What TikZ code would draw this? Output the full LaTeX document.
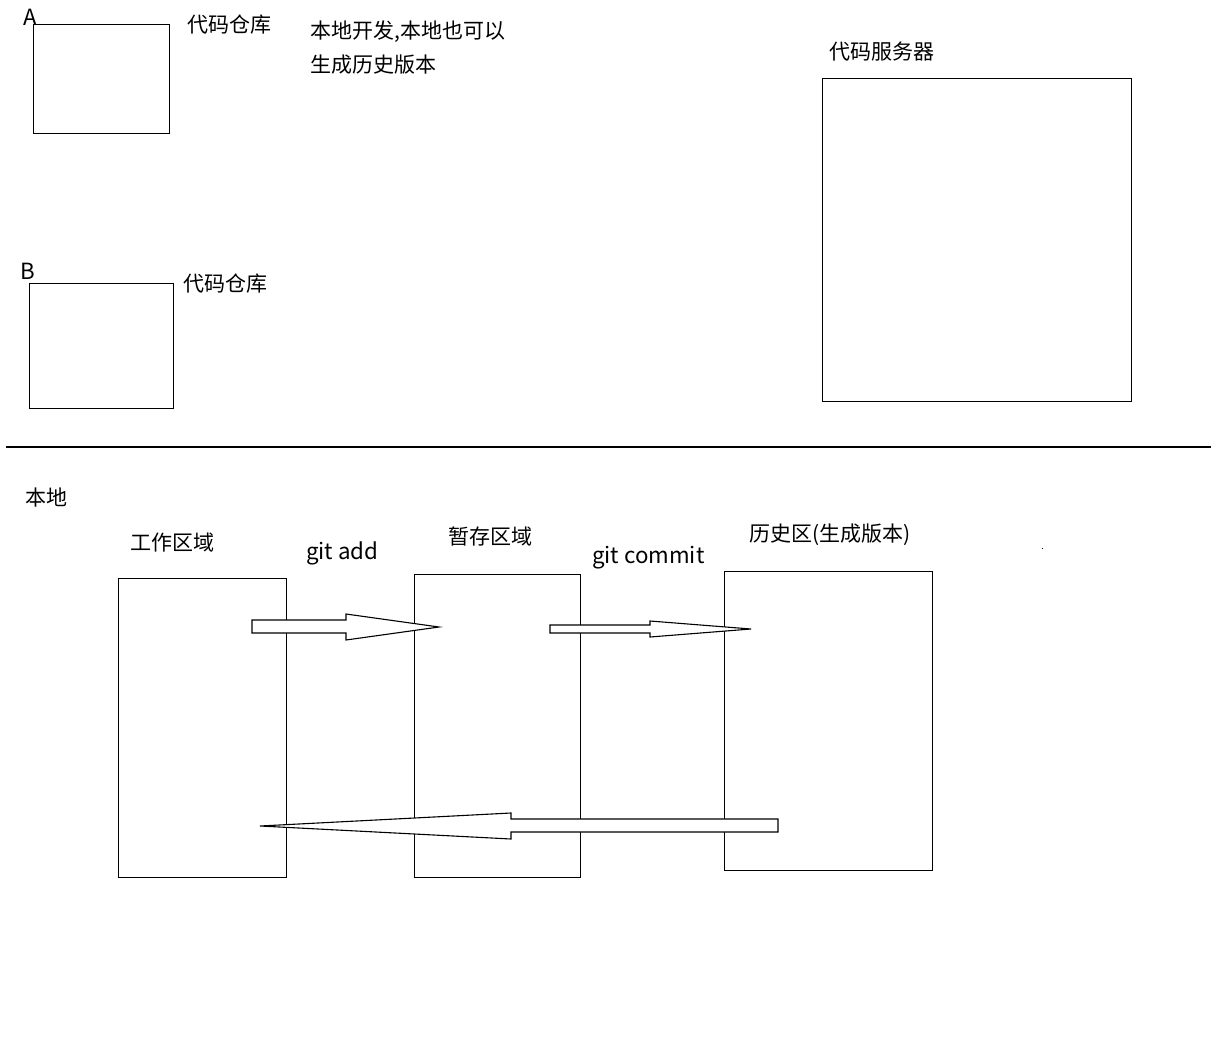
\documentclass[tikz,border=0pt]{standalone}
\usepackage{fontspec}
\setmainfont{Noto Sans CJK SC}
\begin{document}
\begin{tikzpicture}[x=1pt,y=-1pt,
  box/.style={draw=black, line width=1.1pt, anchor=north west, inner sep=0pt},
  lbl/.style={anchor=base west, inner sep=0pt, font=\fontsize{21}{25}\selectfont},
  latin/.style={lbl, font=\fontsize{22.3}{26}\selectfont},
  blockarrow/.style={draw=black, line width=1.1pt, fill=white, line join=miter}]
  \useasboundingbox (0,0) rectangle (1226,1036);

  % upper part: two local repositories and the server
  \node[box, minimum width=136pt, minimum height=109pt] (boxA) at (33,24) {};
  \node[box, minimum width=144pt, minimum height=125pt] (boxB) at (29,283) {};
  \node[box, minimum width=309pt, minimum height=323pt] (server) at (822,78) {};

  \node[latin] (labA) at (23,25.5) {A};
  \node[lbl] (repoA) at (187,32.5) {代码仓库};
  \node[lbl] (note1) at (310,38) {本地开发,本地也可以};
  \node[lbl] (note2) at (310,72) {生成历史版本};
  \node[latin] (labB) at (20,279.5) {B};
  \node[lbl] (repoB) at (183,291) {代码仓库};
  \node[lbl] (serverlab) at (829,59) {代码服务器};

  % separator
  \coordinate (sepL) at (6,447);
  \coordinate (sepR) at (1211,447);
  \draw[line width=1.1pt] (sepL) -- (sepR);

  % lower part: the three local areas
  \node[lbl] (local) at (25,505) {本地};
  \node[box, minimum width=168pt, minimum height=299pt] (work) at (118,578) {};
  \node[box, minimum width=166pt, minimum height=303pt] (stage) at (414,574) {};
  \node[box, minimum width=208pt, minimum height=299pt] (hist) at (724,571) {};

  \node[lbl] (worklab) at (130,550) {工作区域};
  \node[lbl] (stagelab) at (448,544) {暂存区域};
  \node[lbl] (histlab) at (749,541) {历史区(生成版本)};
  \node[latin] (gitadd) at (306,559) {git add};
  \node[latin] (gitcommit) at (592,563) {git commit};

  % block arrows between the areas
  \draw[blockarrow] (252,620) -- (346,620) -- (346,614) -- (439,627)
    -- (346,640) -- (346,633) -- (252,633) -- cycle;
  \draw[blockarrow] (550,625) -- (650,625) -- (650,621) -- (751,629)
    -- (650,637) -- (650,633) -- (550,633) -- cycle;
  \draw[blockarrow] (778,819) -- (511,819) -- (511,813) -- (260,826)
    -- (511,839) -- (511,832) -- (778,832) -- cycle;

  % stray dot
  \fill (1041.5,547.5) rectangle (1043,549);
\end{tikzpicture}
\end{document}
